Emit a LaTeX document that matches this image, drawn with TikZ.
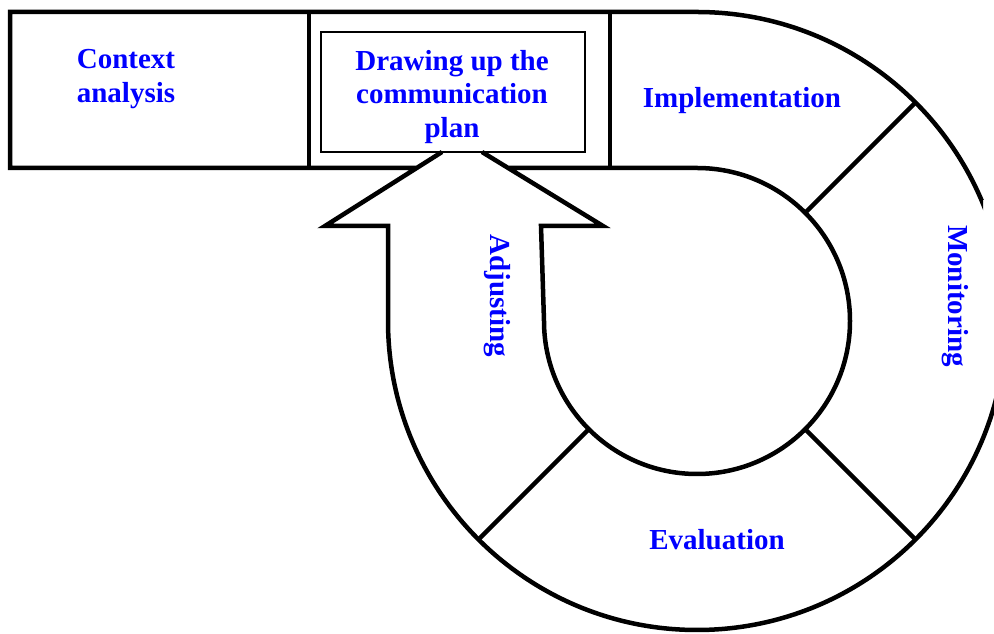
\documentclass[tikz,border=0pt]{standalone}
\usepackage{fontspec}
\setmainfont{Liberation Serif}
\begin{document}
\begin{tikzpicture}[x=1pt,y=1pt,
  outline/.style={line width=4.5pt, line join=miter},
  framebox/.style={draw, line width=2pt, inner sep=0pt},
  phase/.style={text=blue, font=\fontsize{29}{33.5}\selectfont\bfseries,
                inner sep=0pt, align=center}]
\useasboundingbox (0,0) rectangle (994,634);
\fill[white] (0,0) rectangle (994,634);
\clip (0,0) -- (994,0) -- (994,241) -- (983,241) -- (983,434) -- (994,434)
      -- (994,634) -- (0,634) -- cycle;

% centre of the ring
\coordinate (C) at (697,313);

% bar, outer edge of the ring and left side of the arrow
\draw[outline] (416.7,466) -- (10,466) -- (10,622) -- (697,622)
  arc[start angle=90, end angle=-180, radius=309pt]
  -- (388,408) -- (325,408) -- (442,482);

% right side of the arrow and inner edge of the ring
\draw[outline] (482,482) -- (603,408) -- (541,408) -- (544,313)
  arc[start angle=180, end angle=450, radius=153pt] -- (508.1,466);

% dividers in the bar
\draw[outline] (309,466) -- (309,622);
\draw[outline] (610,466) -- (610,622);

% dividers in the ring
\foreach \a in {45,-45,-135}
  \draw[outline] ([shift={(\a:153)}]C) -- ([shift={(\a:309)}]C);

% framed step inside the bar
\node[framebox, minimum width=264pt, minimum height=120pt] (planbox) at (453,542) {};

% phase labels
\node[phase] (ctx) at (126,555.1) {Context\\analysis};
\node[phase] (plan) at (452,537.2) {Drawing up the\\communication\\plan};
\node[phase, anchor=base] (impl) at (742,526) {Implementation};
\node[phase, rotate=-90] (mon) at (955,338) {Monitoring};
\node[phase, anchor=base] (eval) at (717,84) {Evaluation};
\node[phase, rotate=-90] (adj) at (497,338) {Adjusting};
\end{tikzpicture}
\end{document}
